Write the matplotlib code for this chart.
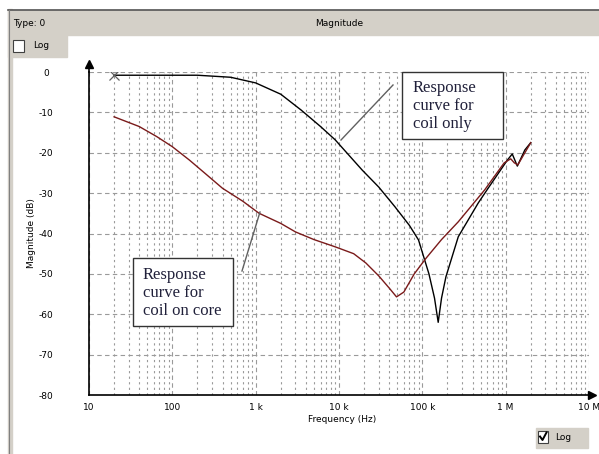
import numpy as np
import matplotlib
matplotlib.use("Agg")
import matplotlib.pyplot as plt
from matplotlib.patches import Rectangle
from matplotlib.lines import Line2D

# values
coil_freq = [20, 50, 100, 200, 500, 1000, 2000, 3500, 6000, 9000, 19000, 30000,
             47000, 70000, 90000, 120000, 140000, 155000, 170000, 192000, 270000,
             470000, 620000, 1.05e6, 1.2e6, 1.38e6, 1.7e6, 2.0e6]
coil_mag = [-0.8, -0.8, -0.8, -0.8, -1.3, -2.7, -5.5, -9.4, -13.5, -16.8, -24.3, -28.5,
            -33.4, -38.0, -41.6, -50.0, -56.0, -62.0, -56.0, -50.7, -40.8,
            -32.4, -28.7, -21.8, -20.3, -23.3, -19.3, -17.5]

core_freq = [20, 40, 65, 100, 160, 250, 400, 700, 1100, 2000, 3000, 5000, 9000,
             15000, 21000, 30000, 40000, 49000, 60000, 80000, 110000, 170000,
             270000, 560000, 960000, 1.15e6, 1.27e6, 1.4e6, 1.7e6, 2.0e6]
core_mag = [-11.1, -13.5, -16.0, -18.5, -21.8, -25.2, -28.8, -32.0, -35.0, -37.5, -39.6,
            -41.5, -43.3, -45.0, -47.3, -50.5, -53.5, -55.7, -54.5, -50.0, -46.2,
            -41.5, -37.1, -29.2, -22.5, -21.5, -22.5, -23.0, -20.0, -17.5]

x_ticks = [10, 100, 1e3, 1e4, 1e5, 1e6, 1e7]
x_labels = ["10", "100", "1 k", "10 k", "100 k", "1 M", "10 M"]
y_ticks = [0, -10, -20, -30, -40, -50, -60, -70, -80]

W, H = 599, 454
def px(x):
    return x / W
def py(y):
    return 1 - y / H

def box(x0, y0, x1, y1, **kw):
    # rectangle given in screenshot pixels (top-left origin)
    r = Rectangle((px(x0), py(y1)), px(x1) - px(x0), py(y0) - py(y1),
                  transform=fig.transFigure, **kw)
    fig.patches.append(r)

fig = plt.figure(figsize=(W / 100, H / 100), dpi=100)
fig.patch.set_facecolor("white")

gray = "#d4d0c8"
# window chrome
box(8, 9, 12, H, color=gray, zorder=0)
box(8, 10, W, 35, color=gray, zorder=0)
box(8, 35, 67, 57, color=gray, zorder=0)
fig.lines.append(Line2D([px(8), px(W)], [py(9.5), py(9.5)], transform=fig.transFigure, color="#555555", lw=1.2))
fig.lines.append(Line2D([px(8.5), px(8.5)], [py(9.5), py(H)], transform=fig.transFigure, color="#808080", lw=0.8))
fig.text(px(13), py(23), "Type: 0", fontsize=6.5, va="center", ha="left")
fig.text(px(339), py(23), "Magnitude", fontsize=6.5, va="center", ha="center")

# top "Log" checkbox
box(13, 40, 24, 52, facecolor="white", edgecolor="#404040", lw=0.8, zorder=1)
fig.text(px(33), py(46), "Log", fontsize=6.5, va="center", ha="left")

# bottom "Log" checkbox (checked)
box(536, 428, 588, 448, color=gray, zorder=0)
box(538, 431, 548, 443, facecolor="white", edgecolor="#404040", lw=0.8, zorder=1)
fig.lines.append(Line2D([px(540), px(542.5), px(546.5)], [py(436.5), py(440), py(432.5)],
                        transform=fig.transFigure, color="black", lw=1.4, zorder=2))
fig.text(px(555), py(437.5), "Log", fontsize=6.5, va="center", ha="left")

# plot area
ax = fig.add_axes([px(89), py(395), px(589) - px(89), py(72) - py(395)])
ax.set_xscale("log")
ax.set_xlim(10, 1e7)
ax.set_ylim(-80, 0)

ax.grid(which="major", color="#9a9a9a", ls=(0, (4, 3)), lw=0.8)
ax.grid(which="minor", axis="x", color="#9a9a9a", ls=(0, (2, 3)), lw=0.8)
ax.set_axisbelow(True)

ax.plot(coil_freq, coil_mag, color="black", lw=1.0)
ax.plot(core_freq, core_mag, color="#7a1a1a", lw=1.0)
ax.plot(coil_freq[0], coil_mag[0], marker="x", color="#606060", ms=7, mew=0.9)

for s in ["top", "right"]:
    ax.spines[s].set_visible(False)
for s in ["left", "bottom"]:
    ax.spines[s].set_linewidth(1.2)
ax.plot(1.005, 0, marker=">", color="black", ms=6, transform=ax.transAxes, clip_on=False)
ax.plot(0, 1.025, marker="^", color="black", ms=6, transform=ax.transAxes, clip_on=False)
ax.plot([0, 0], [1, 1.025], color="black", lw=1.2, transform=ax.transAxes, clip_on=False)

ax.set_xticks(x_ticks)
ax.set_xticklabels(x_labels)
ax.set_yticks(y_ticks)
ax.set_yticklabels([str(v) for v in y_ticks], ha="center")
ax.tick_params(which="both", length=0, labelsize=6.5)
ax.tick_params(axis="x", pad=6)
ax.tick_params(axis="y", pad=31)
ax.xaxis.set_minor_formatter(plt.NullFormatter())

fig.text(px(342), py(419), "Frequency (Hz)", fontsize=6.5, ha="center", va="center")
fig.text(px(31), py(233), "Magnitude (dB)", fontsize=6.5, ha="center", va="center", rotation=90)

# callouts
serif = "Liberation Serif"
box(402, 72, 503, 139, facecolor="white", edgecolor="#333333", lw=1.0, zorder=5)
fig.text(px(413), py(106), "Response\ncurve for\ncoil only", family=serif, fontsize=12,
         color="#20203a", ha="left", va="center", linespacing=1.13, zorder=6)
fig.lines.append(Line2D([px(393), px(341)], [py(85), py(140)], transform=fig.transFigure, color="#606060", lw=1.0))

box(133, 258, 233, 326, facecolor="white", edgecolor="#333333", lw=1.0, zorder=5)
fig.text(px(143), py(293), "Response\ncurve for\ncoil on core", family=serif, fontsize=12,
         color="#20203a", ha="left", va="center", linespacing=1.13, zorder=6)
fig.lines.append(Line2D([px(242), px(260)], [py(271), py(212)], transform=fig.transFigure, color="#606060", lw=1.0))

fig.savefig("out.png", dpi=100)
